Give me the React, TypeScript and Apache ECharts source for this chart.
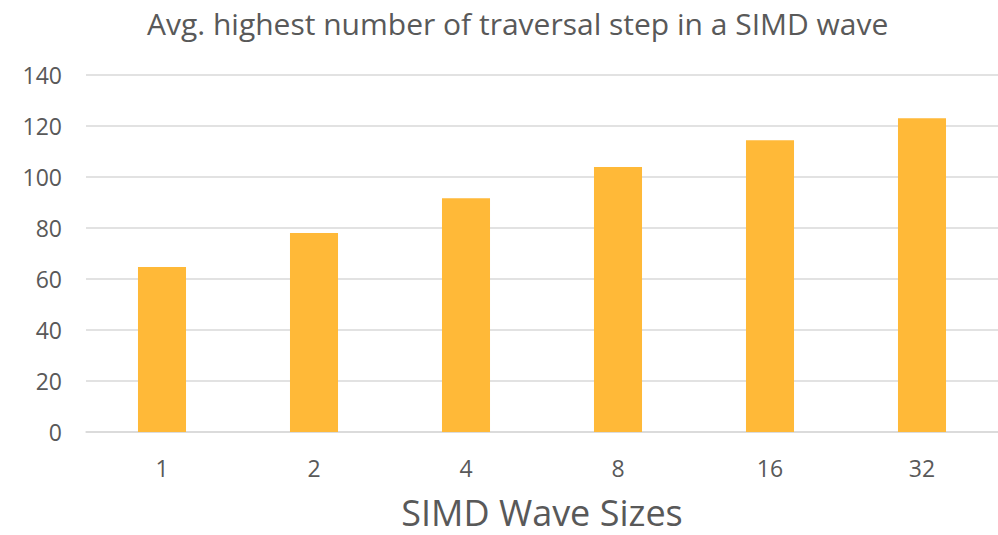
import React, { useEffect, useRef } from "react";
import * as echarts from "echarts";

const categories = ["1", "2", "4", "8", "16", "32"];
const values = [64.7, 78.0, 91.7, 103.9, 114.4, 123.0];
const yTicks = { min: 0, max: 140, interval: 20 };
const titleText = "Avg. highest number of traversal step in a SIMD wave";
const xAxisName = "SIMD Wave Sizes";

export default function App() {
  const ref = useRef<HTMLDivElement>(null);
  useEffect(() => {
    if (!ref.current) return;
    const chart = echarts.init(ref.current, null, { renderer: "svg" });
    const font = "'Open Sans', 'Noto Sans', sans-serif";
    chart.setOption({
      animation: false,
      backgroundColor: "#ffffff",
      title: {
        text: titleText,
        left: 142,
        top: 3,
        textStyle: { fontFamily: font, fontSize: 30, fontWeight: "normal", color: "#595959" },
      },
      grid: { left: 86, right: 0, top: 75, bottom: 103, containLabel: false, outerBoundsMode: "none" },
      xAxis: {
        type: "category",
        data: categories,
        name: xAxisName,
        nameLocation: "middle",
        nameGap: 62,
        nameTextStyle: { fontFamily: font, fontSize: 36, lineHeight: 36, color: "#595959" },
        axisLine: { lineStyle: { color: "#d9d9d9", width: 1.5 } },
        axisTick: { show: false },
        axisLabel: { fontFamily: font, fontSize: 23, color: "#595959", margin: 24 },
      },
      yAxis: {
        type: "value",
        min: yTicks.min,
        max: yTicks.max,
        interval: yTicks.interval,
        axisLine: { show: false },
        axisTick: { show: false },
        axisLabel: { fontFamily: font, fontSize: 23, color: "#595959", margin: 24 },
        splitLine: { lineStyle: { color: "#d9d9d9", width: 1.5 } },
      },
      series: [
        {
          type: "bar",
          data: values,
          barWidth: "31.6%",
          itemStyle: { color: "#ffb938" },
        },
      ],
    });
    return () => chart.dispose();
  }, []);
  return <div ref={ref} style={{ width: 998, height: 535, position: "absolute", left: 0, top: 0 }} />;
}
